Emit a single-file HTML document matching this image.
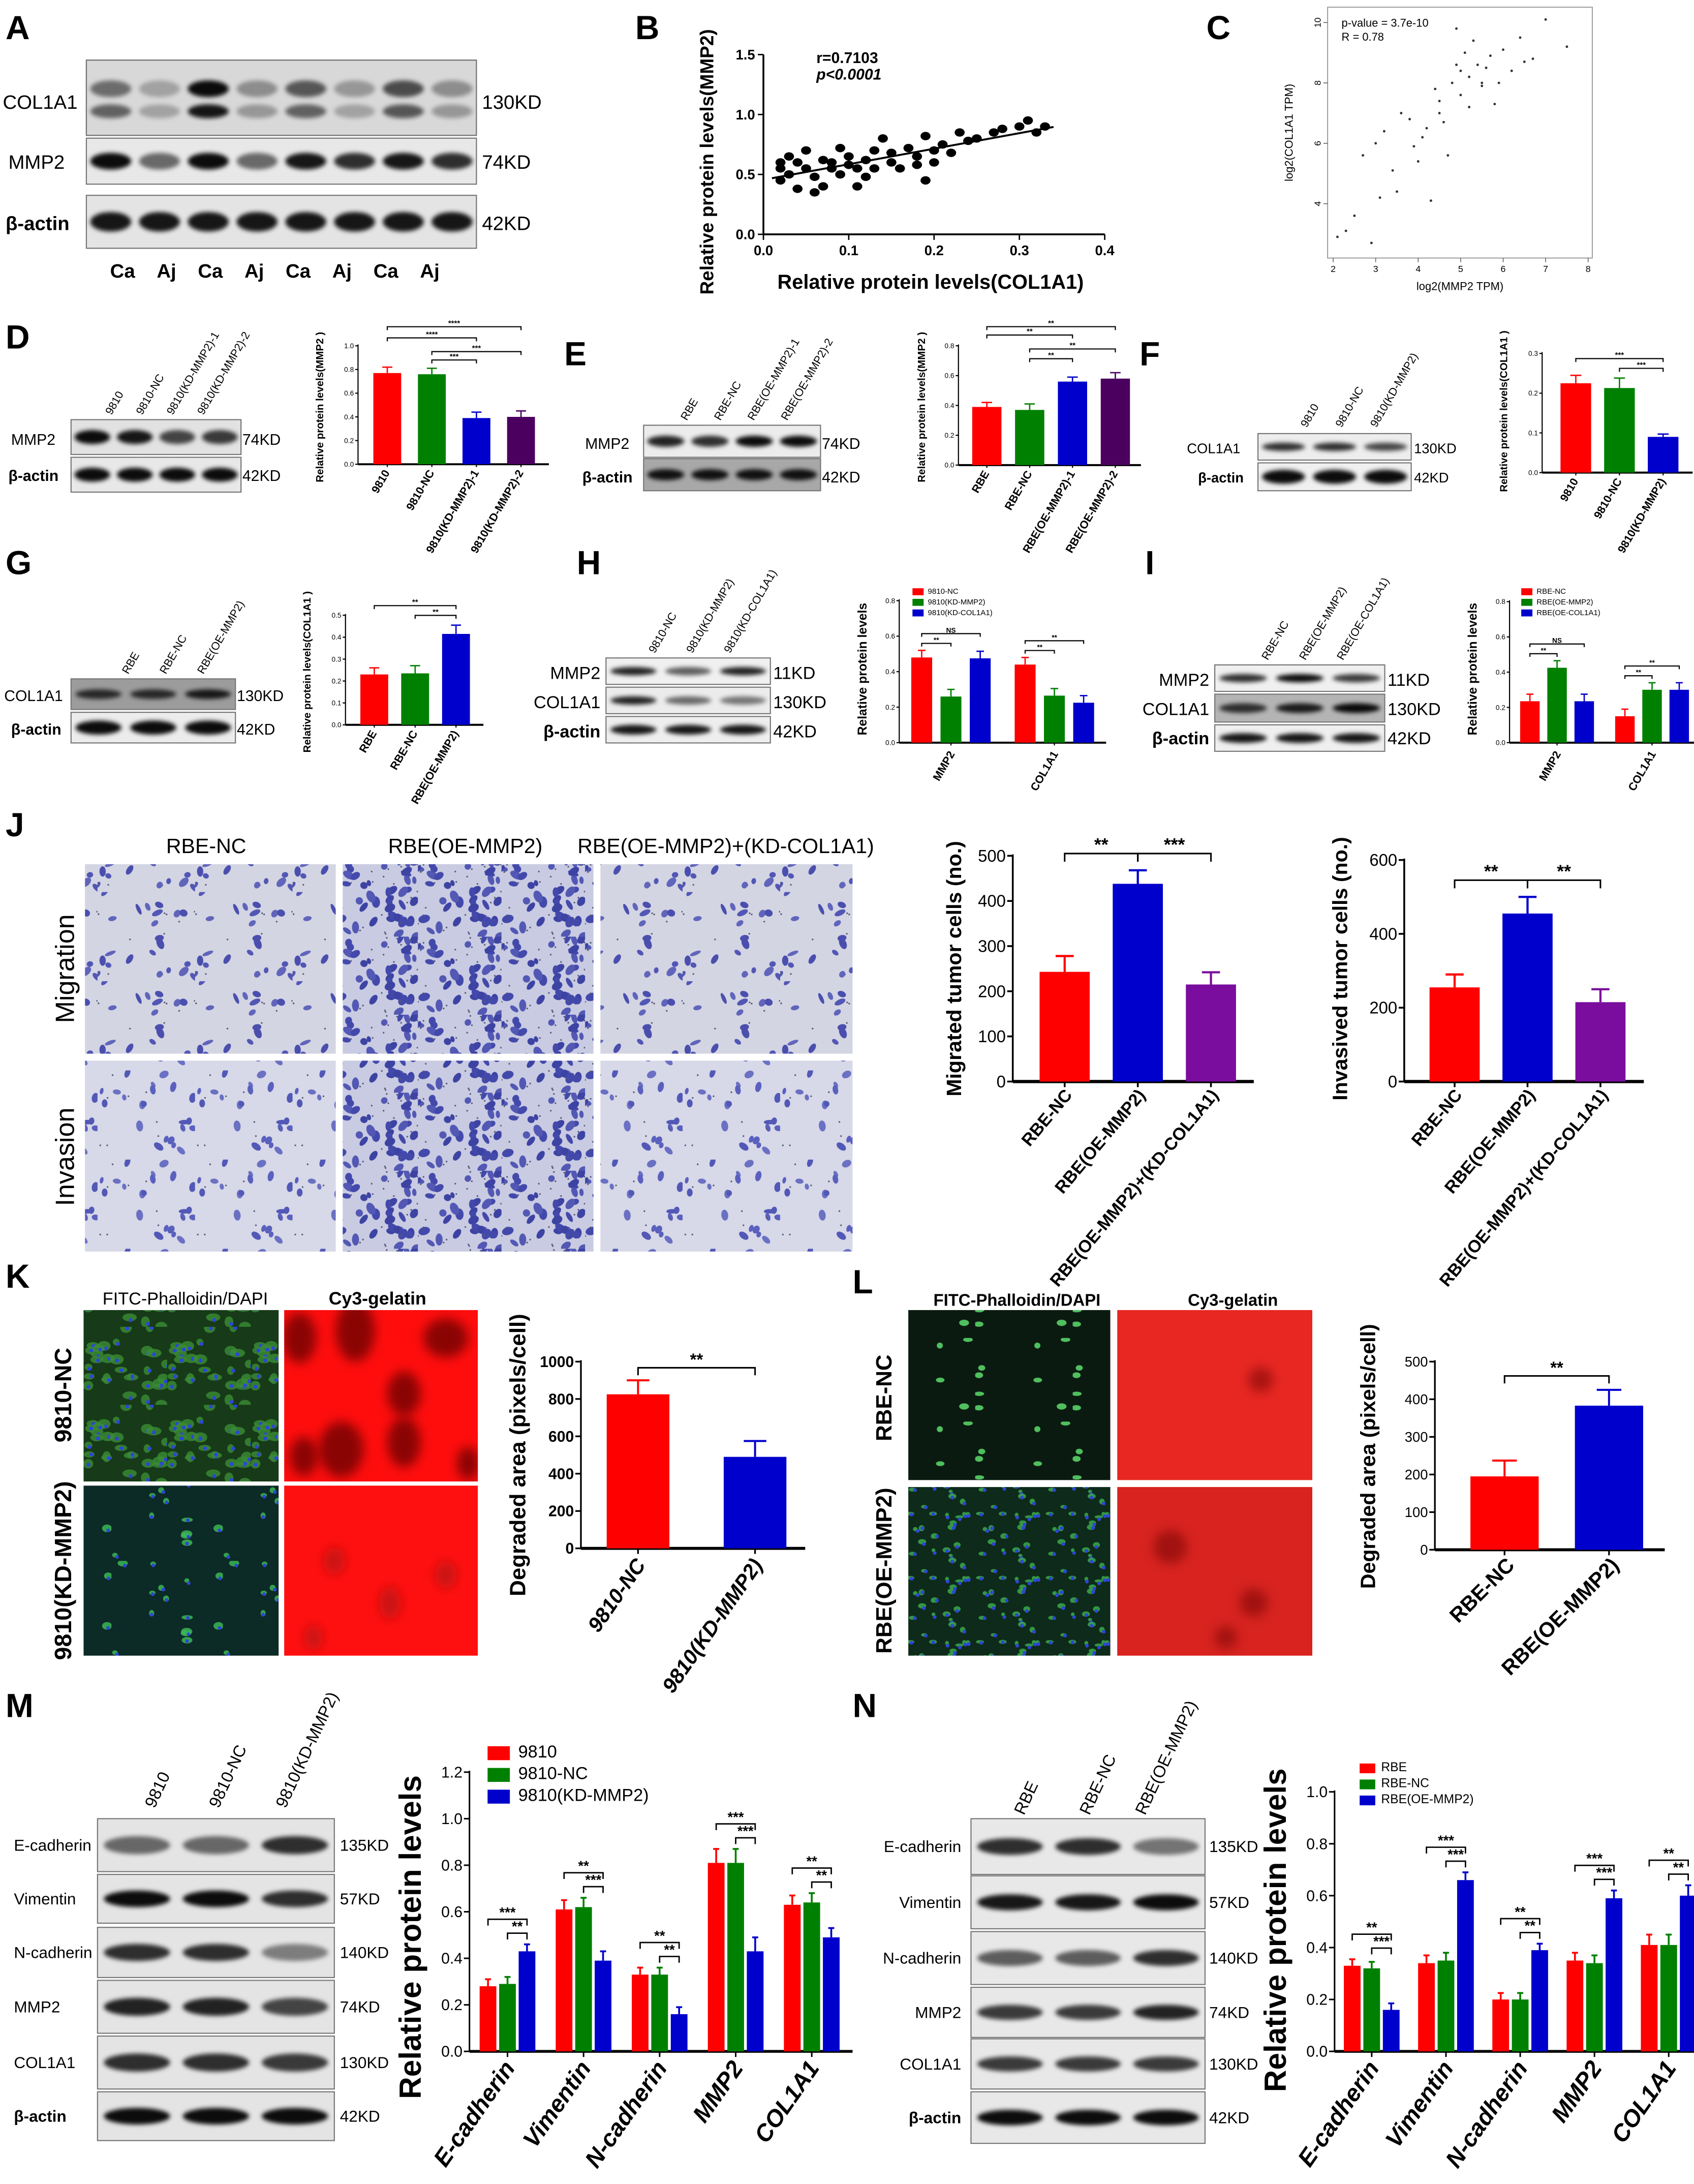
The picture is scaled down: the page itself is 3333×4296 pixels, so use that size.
<!DOCTYPE html>
<html><head><meta charset="utf-8"><style>
html,body{margin:0;padding:0;background:#fff}
svg{display:block;font-family:"Liberation Sans",Arial,sans-serif}
</style></head><body>
<svg id="fig" xmlns="http://www.w3.org/2000/svg" width="3333" height="4296" viewBox="0 0 1216 1567">
<defs id="defs">
<filter id="blur" x="-20%" y="-50%" width="140%" height="200%"><feGaussianBlur stdDeviation="1.6"/></filter>
<filter id="blur4" x="-50%" y="-50%" width="200%" height="200%"><feGaussianBlur stdDeviation="4"/></filter>
<clipPath id="clipK1"><rect x="204" y="940" width="139" height="123"/></clipPath>
<clipPath id="clipK2"><rect x="204" y="1066" width="139" height="122"/></clipPath>
<clipPath id="clipL1"><rect x="802" y="940" width="140" height="122"/></clipPath>
<clipPath id="clipL2"><rect x="802" y="1067" width="140" height="121"/></clipPath>
</defs>
</svg>
<script>
const NS='http://www.w3.org/2000/svg';
const svg=document.getElementById('fig');
const defs=document.getElementById('defs');
function mk(tag,attrs,parent){const e=document.createElementNS(NS,tag);for(const k in attrs)e.setAttribute(k,attrs[k]);(parent||svg).appendChild(e);return e;}
function txt(x,y,s,size,opts,name,parent){const t=mk('text',Object.assign({x:x,y:y,'font-size':size},opts||{}),parent);t.textContent=s;


return t;}

/* ---------------- DATA ---------------- */
const bX=[0.02,0.02,0.02,0.03,0.03,0.04,0.05,0.05,0.06,0.06,0.07,0.07,0.08,0.08,0.09,0.09,0.10,0.10,0.11,0.11,0.12,0.13,0.13,0.14,0.15,0.15,0.16,0.17,0.18,0.18,0.19,0.20,0.20,0.21,0.22,0.23,0.24,0.25,0.27,0.28,0.30,0.31,0.32,0.33,0.04,0.12,0.19];
const bY=[0.60,0.55,0.45,0.65,0.50,0.60,0.55,0.70,0.48,0.35,0.62,0.40,0.55,0.60,0.72,0.50,0.58,0.65,0.55,0.40,0.62,0.70,0.55,0.80,0.68,0.60,0.55,0.72,0.65,0.58,0.82,0.70,0.60,0.75,0.68,0.85,0.78,0.80,0.85,0.88,0.90,0.95,0.85,0.90,0.38,0.48,0.45];
const bXTicks=[0,0.1,0.2,0.3,0.4];const bXTickLabels=['0.0','0.1','0.2','0.3','0.4'];
const bYTicks=[0,0.5,1.0,1.5];const bYTickLabels=['0.0','0.5','1.0','1.5'];
const cX=[2.1,2.3,2.5,2.7,2.9,3.1,3.2,3.4,3.5,3.6,3.8,3.9,4.0,4.1,4.2,4.3,4.4,4.5,4.6,4.7,4.8,4.9,5.0,5.0,5.1,5.2,5.3,5.4,5.5,5.6,5.7,5.8,5.9,6.0,6.2,6.4,6.7,7.0,7.5,3.0,4.5,5.5,6.5,4.9,5.2];
const cY=[2.9,3.1,3.6,5.6,2.7,4.2,6.4,5.1,4.4,7.0,6.8,5.9,5.4,6.2,6.5,4.1,7.8,7.4,6.7,5.6,8.0,8.6,8.4,7.6,9.0,8.2,9.4,8.6,7.9,8.5,8.9,7.3,8.0,9.1,8.4,9.5,8.8,10.1,9.2,6.0,7.0,8.0,8.7,9.8,7.2];
const cXTicks=[2,3,4,5,6,7,8];const cYTicks=[4,6,8,10];

const dCats=['9810','9810-NC','9810(KD-MMP2)-1','9810(KD-MMP2)-2'];const dVals=[0.77,0.76,0.39,0.40];const dErr=[0.05,0.05,0.05,0.05];
const dTicks=[0,0.2,0.4,0.6,0.8,1.0];const dTickLabels=['0.0','0.2','0.4','0.6','0.8','1.0'];
const eCats=['RBE','RBE-NC','RBE(OE-MMP2)-1','RBE(OE-MMP2)-2'];const eVals=[0.39,0.37,0.56,0.58];const eErr=[0.03,0.04,0.03,0.04];
const eTicks=[0,0.2,0.4,0.6,0.8];const eTickLabels=['0.0','0.2','0.4','0.6','0.8'];
const fCats=['9810','9810-NC','9810(KD-MMP2)'];const fVals=[0.225,0.213,0.09];const fErr=[0.02,0.025,0.007];
const fTicks=[0,0.1,0.2,0.3];const fTickLabels=['0.0','0.1','0.2','0.3'];
const gCats=['RBE','RBE-NC','RBE(OE-MMP2)'];const gVals=[0.23,0.235,0.415];const gErr=[0.03,0.035,0.04];
const gTicks=[0,0.1,0.2,0.3,0.4,0.5];const gTickLabels=['0.0','0.1','0.2','0.3','0.4','0.5'];
const hCats=['MMP2','COL1A1'];const hSeries=['9810-NC','9810(KD-MMP2)','9810(KD-COL1A1)'];
const hNC=[0.48,0.44];const hKDM=[0.26,0.265];const hKDC=[0.475,0.225];const hErr=[0.04,0.04];
const hTicks=[0,0.2,0.4,0.6,0.8];const hTickLabels=['0.0','0.2','0.4','0.6','0.8'];
const iCats=['MMP2','COL1A1'];const iSeries=['RBE-NC','RBE(OE-MMP2)','RBE(OE-COL1A1)'];
const iNC=[0.235,0.15];const iOEM=[0.425,0.30];const iOEC=[0.235,0.30];const iErr=[0.04,0.04];
const jCats=['RBE-NC','RBE(OE-MMP2)','RBE(OE-MMP2)+(KD-COL1A1)'];
const jMig=[243,438,215];const jMigErr=[35,30,27];const jMigTicks=[0,100,200,300,400,500];
const jInv=[255,455,215];const jInvErr=[35,45,35];const jInvTicks=[0,200,400,600];
const kCats=['9810-NC','9810(KD-MMP2)'];const kVals=[825,490];const kErr=[75,85];const kTicks=[0,200,400,600,800,1000];
const lCats=['RBE-NC','RBE(OE-MMP2)'];const lVals=[195,383];const lErr=[42,42];const lTicks=[0,100,200,300,400,500];
const mCats=['E-cadherin','Vimentin','N-cadherin','MMP2','COL1A1'];const mSeries=['9810','9810-NC','9810(KD-MMP2)'];
const m9810=[0.28,0.61,0.33,0.81,0.63];const mNC=[0.29,0.62,0.33,0.81,0.64];const mKD=[0.43,0.39,0.16,0.43,0.49];const mErr=[0.03,0.04,0.03,0.06,0.04];
const mTicks=[0,0.2,0.4,0.6,0.8,1.0,1.2];const mTickLabels=['0.0','0.2','0.4','0.6','0.8','1.0','1.2'];
const nCats=['E-cadherin','Vimentin','N-cadherin','MMP2','COL1A1'];const nSeries=['RBE','RBE-NC','RBE(OE-MMP2)'];
const nRBE=[0.33,0.34,0.20,0.35,0.41];const nNC=[0.32,0.35,0.20,0.34,0.41];const nOE=[0.16,0.66,0.39,0.59,0.60];const nErr=[0.025,0.03,0.025,0.03,0.04];
const nTicks=[0,0.2,0.4,0.6,0.8,1.0];const nTickLabels=['0.0','0.2','0.4','0.6','0.8','1.0'];

const RED='#ff0000',GRN='#008000',BLU='#0000cc',PUR='#4b0060',VIO='#7a0d9e';

/* ---------------- texture patterns (decorative, not data) ---------------- */
let seed=7;function rnd(){seed=(seed*16807)%2147483647;return seed/2147483647;}
function cellPattern(id,w,h,bg,n,cols,rx,ry){
 const p=mk('pattern',{id:id,width:w,height:h,patternUnits:'userSpaceOnUse'},defs);
 mk('rect',{width:w,height:h,fill:bg},p);
 for(let i=0;i<n;i++){const x=rnd()*w,y=rnd()*h;
  mk('ellipse',{cx:x,cy:y,rx:rx*(0.6+rnd()*0.7),ry:ry*(0.6+rnd()*0.6),fill:cols[i%cols.length],transform:'rotate('+Math.floor(rnd()*180)+' '+x+' '+y+')'},p);
  if(rnd()<0.5)mk('circle',{cx:rnd()*w,cy:rnd()*h,r:0.6,fill:'#555a70'},p);}
}
cellPattern('mig',70,64,'#d4d5e3',22,['#5257b5','#4a4fae','#6065bb'],3.4,2.2);
cellPattern('migD',60,56,'#c9cbe2',44,['#4349ab','#3d43a3','#5258b3'],3.6,2.5);
cellPattern('inv',70,64,'#d7d8e8',22,['#5a60bd','#5258b6','#6a70c2'],3.2,2.1);
function fluoPattern(id,w,h,bg,n,gcol,gr,nuc){
 const p=mk('pattern',{id:id,width:w,height:h,patternUnits:'userSpaceOnUse'},defs);
 mk('rect',{width:w,height:h,fill:bg},p);
 for(let i=0;i<n;i++){const x=rnd()*w,y=rnd()*h;
  if(gr>0)mk('ellipse',{cx:x,cy:y,rx:gr*(0.6+rnd()*0.8),ry:gr*(0.5+rnd()*0.5),fill:gcol,'fill-opacity':0.8},p);
  mk('circle',{cx:x+rnd()*2,cy:y+rnd()*2,r:nuc,fill:'#2d45d8'},p);}
}
fluoPattern('grn',60,56,'#173a18',30,'#3a8c35',4,1.4);
fluoPattern('grnK2',80,70,'#0c2a26',14,'#3fbf55',3,1.3);
fluoPattern('grn2',70,60,'#0a1a10',8,'#62e872',2.6,0.1);
fluoPattern('grn3',50,46,'#0e2a1a',20,'#3cb14e',2.2,1.3);

/* ---------------- helpers ---------------- */
function barChart(c){
 const g=mk('g',{});
 
 
 const ys=v=>c.y0-(v/c.max)*(c.y0-c.yTop);
 const n=c.cats.length,m=c.series.length;
 const band=(c.b[1]-c.b[0])/n;
 const gc=i=>c.b[0]+band*(i+0.5);
 const bx=(i,j)=>gc(i)+(j-(m-1)/2)*c.step;
 const aw=c.aw||0.8;
 mk('line',{x1:c.x0,y1:ys(c.ticks[c.ticks.length-1])-1,x2:c.x0,y2:c.y0,stroke:'#000','stroke-width':aw},g);
 mk('line',{x1:c.x0,y1:c.y0,x2:c.x1,y2:c.y0,stroke:'#000','stroke-width':aw*1.8},g);
 c.ticks.forEach((t,k)=>{const y=ys(t);mk('line',{x1:c.x0-c.tl,y1:y,x2:c.x0,y2:y,stroke:'#000','stroke-width':aw},g);
  txt(c.x0-c.tl-1,y+c.ts*0.35,c.tickLabels[k],c.ts,{'text-anchor':'end','font-weight':c.tw||'normal'},'y-tick-label',g);});
 c.series.forEach((arr,j)=>{arr.forEach((v,i)=>{
  const col=m===1?c.colors[i]:c.colors[j];const x=bx(i,j);const e=c.errs[i];
  const r=mk('rect',{x:x-c.bw/2,y:ys(v),width:c.bw,height:c.y0-ys(v),fill:col},g);
  
  
  mk('line',{x1:x,y1:ys(v),x2:x,y2:ys(v+e),stroke:col,'stroke-width':aw*1.2},g);
  mk('line',{x1:x-c.bw*0.18,y1:ys(v+e),x2:x+c.bw*0.18,y2:ys(v+e),stroke:col,'stroke-width':aw*1.2},g);
 });});
 c.cats.forEach((s,i)=>{const x=gc(i);mk('line',{x1:x,y1:c.y0,x2:x,y2:c.y0+c.tl,stroke:'#000','stroke-width':aw},g);
  const lx=x+(c.clDx||0),ly=c.y0+c.clDy;
  txt(lx,ly,s,c.cs,{'text-anchor':'end','font-weight':'bold','font-style':c.ci?'italic':'normal',transform:'rotate('+c.rot+' '+lx+' '+ly+')'},'x-category-label',g);});
 txt(c.titleX,c.titleY,c.title,c.titleS,{'text-anchor':'middle','font-weight':'bold',transform:'rotate(-90 '+c.titleX+' '+c.titleY+')'},'y-axis-title',g);
 return {ys:ys,bx:bx,g:g};
}
function bracket(x1,x2,y,label,size,lw,parent){
 const g=mk('g',{},parent);
 
 
 mk('path',{d:'M'+x1+' '+(y+size*0.45)+'V'+y+'H'+x2+'V'+(y+size*0.45),fill:'none',stroke:'#000','stroke-width':lw},g);
 txt((x1+x2)/2,y-size*0.15,label,size,{'text-anchor':'middle','font-weight':'bold'},'significance-label',g);
}
function legend(x,y,dy,sz,fs,names,cols){
 const g=mk('g',{});
 
 
 names.forEach((s,k)=>{mk('rect',{x:x,y:y+k*dy-sz*0.8,width:sz*1.6,height:sz,fill:cols[k]},g);
  txt(x+sz*2.2,y+k*dy,s,fs,{},'legend-entry',g);});
}
function blot(name,x,y,w,h,ints,bg,bandH,yoff,widthF){
 const g=mk('g',{});
 
 
 mk('rect',{x:x,y:y,width:w,height:h,fill:bg||'#e6e6e6',stroke:'#777','stroke-width':0.8},g);
 const n=ints.length,lw=w/n;
 ints.forEach((v,i)=>{mk('ellipse',{cx:x+lw*(i+0.5),cy:y+h*(yoff||0.5),rx:lw*(widthF||0.42),ry:bandH,fill:'#000','fill-opacity':v,filter:'url(#blur)'},g);});
 return g;
}
function panel(x,y,s){txt(x,y,s,24,{'font-weight':'bold'},'panel-label-'+s);}
function img(name,x,y,w,h,fill){const r=mk('rect',{x:x,y:y,width:w,height:h,fill:fill});
 
 return r;}
function blotch(list,col,op,clip){const g=mk('g',{'clip-path':'url(#'+clip+')'});
 
 
 list.forEach(s=>mk('ellipse',{cx:s[0],cy:s[1],rx:s[2],ry:s[3]||s[2],fill:col,'fill-opacity':op,filter:'url(#blur4)'},g));}

/* ---------------- A ---------------- */
panel(4,28,'A');
blot('blot-a-col1a1',62,43,280,54,[0.5,0.25,0.95,0.35,0.6,0.3,0.65,0.35],'#d8d8d8',6,0.38);
blot('blot-a-col1a1-lower',62,43,280,54,[0.55,0.25,0.9,0.3,0.55,0.25,0.6,0.3],'none',5,0.68);
blot('blot-a-mmp2',62,99,280,33,[0.95,0.55,0.95,0.55,0.9,0.8,0.9,0.8],'#e8e8e8',6);
blot('blot-a-actin',62,140,280,38,[0.9,0.9,0.9,0.9,0.9,0.9,0.9,0.9],'#e4e4e4',7);
txt(2,78,'COL1A1',14,{},'row-label');txt(6,121,'MMP2',14,{},'row-label');txt(4,165,'β-actin',14,{'font-weight':'bold'},'row-label');
txt(346,78,'130KD',14,{},'kd-label');txt(346,121,'74KD',14,{},'kd-label');txt(346,165,'42KD',14,{},'kd-label');
['Ca','Aj','Ca','Aj','Ca','Aj','Ca','Aj'].forEach((s,i)=>txt(88+i*31.5,199,s,14,{'font-weight':'bold','text-anchor':'middle'},'lane-label'));

/* ---------------- B ---------------- */
panel(456,28,'B');
(function(){
 const x0=548,x1=793,y0=168,yT=39;
 const sx=v=>x0+v/0.4*(x1-x0),sy=v=>y0-v/1.5*(y0-yT);
 const g=mk('g',{});
 
 
 mk('line',{x1:x0,y1:yT,x2:x0,y2:y0,stroke:'#000','stroke-width':1.3},g);
 mk('line',{x1:x0,y1:y0,x2:x1,y2:y0,stroke:'#000','stroke-width':1.3},g);
 bXTicks.forEach((t,k)=>{mk('line',{x1:sx(t),y1:y0,x2:sx(t),y2:y0+4,stroke:'#000'},g);txt(sx(t),y0+15,bXTickLabels[k],10,{'text-anchor':'middle','font-weight':'bold'},'x-tick-label',g);});
 bYTicks.forEach((t,k)=>{mk('line',{x1:x0-4,y1:sy(t),x2:x0,y2:sy(t),stroke:'#000'},g);txt(x0-6,sy(t)+3.5,bYTickLabels[k],10,{'text-anchor':'end','font-weight':'bold'},'y-tick-label',g);});
 bX.forEach((v,i)=>{const p=mk('ellipse',{cx:sx(v),cy:sy(bY[i]),rx:3.6,ry:3,fill:'#000'},g);
  
  });
 const n=bX.length,mx=bX.reduce((a,b)=>a+b)/n,my=bY.reduce((a,b)=>a+b)/n;
 let sxy=0,sxx=0;bX.forEach((v,i)=>{sxy+=(v-mx)*(bY[i]-my);sxx+=(v-mx)*(v-mx);});
 const sl=sxy/sxx,ic=my-sl*mx,xa=Math.min(...bX)-0.01,xb=Math.max(...bX)+0.01;
 const ln=mk('line',{x1:sx(xa),y1:sy(ic+sl*xa),x2:sx(xb),y2:sy(ic+sl*xb),stroke:'#000','stroke-width':1.4},g);
 
 
 txt(586,45,'r=0.7103',11,{'font-weight':'bold'},'r-value',g);
 txt(586,57,'p<0.0001',11,{'font-weight':'bold','font-style':'italic'},'p-value',g);
 txt(668,207,'Relative protein levels(COL1A1)',14.5,{'text-anchor':'middle','font-weight':'bold'},'x-axis-title',g);
 txt(512,116,'Relative protein levels(MMP2)',13.5,{'text-anchor':'middle','font-weight':'bold',transform:'rotate(-90 512 116)'},'y-axis-title',g);
})();

/* ---------------- C ---------------- */
panel(866,28,'C');
(function(){
 const x0=953,x1=1143,y0=185,yT=5;
 const sx=v=>957+(v-2)*(1140-957)/6,sy=v=>146-(v-4)*(146-16)/6;
 const g=mk('g',{});
 
 
 mk('rect',{x:x0,y:yT,width:x1-x0,height:y0-yT,fill:'none',stroke:'#999','stroke-width':0.7},g);
 cXTicks.forEach(t=>{mk('line',{x1:sx(t),y1:y0,x2:sx(t),y2:y0+3,stroke:'#666','stroke-width':0.6},g);txt(sx(t),y0+10,String(t),6.5,{'text-anchor':'middle'},'x-tick-label',g);});
 cYTicks.forEach(t=>{mk('line',{x1:x0-3,y1:sy(t),x2:x0,y2:sy(t),stroke:'#666','stroke-width':0.6},g);txt(x0-5,sy(t),String(t),6.5,{'text-anchor':'middle',transform:'rotate(-90 '+(x0-5)+' '+sy(t)+')'},'y-tick-label',g);});
 cX.forEach((v,i)=>{const p=mk('circle',{cx:sx(v),cy:sy(cY[i]),r:0.9,fill:'#333'},g);
  
  });
 txt(963,19,'p-value = 3.7e-10',8,{},'p-value',g);txt(963,29,'R = 0.78',8,{},'r-value',g);
 txt(1048,208,'log2(MMP2 TPM)',8,{'text-anchor':'middle'},'x-axis-title',g);
 txt(928,95,'log2(COL1A1 TPM)',8,{'text-anchor':'middle',transform:'rotate(-90 928 95)'},'y-axis-title',g);
})();

/* ---------------- D ---------------- */
panel(4,250,'D');
blot('blot-d-mmp2',51,301,122,25,[0.95,0.9,0.7,0.75],'#e2e2e2',5);
blot('blot-d-actin',51,328,122,25,[0.95,0.95,0.95,0.95],'#e8e8e8',5);
txt(8,319,'MMP2',11,{},'row-label');txt(6,345,'β-actin',11,{'font-weight':'bold'},'row-label');
txt(174,319,'74KD',11,{},'kd-label');txt(174,345,'42KD',11,{},'kd-label');
dCats.forEach((s,i)=>{const x=80+i*22,y=298;txt(x,y,s,8,{transform:'rotate(-60 '+x+' '+y+')'},'lane-label');});
(function(){
 const r=barChart({name:'chart-d',cats:dCats,series:[dVals],errs:dErr,colors:[RED,GRN,BLU,PUR],x0:257,x1:394,y0:333,yTop:248,max:1.0,b:[262,390],bw:20,step:0,
  ticks:dTicks,tickLabels:dTickLabels,tl:2,ts:5,rot:-60,cs:8,clDy:6,clDx:2,title:'Relative protein levels(MMP2 )',titleX:232,titleY:292,titleS:7.5});
 bracket(r.bx(0,0),r.bx(3,0),r.ys(dVals[0]+dErr[0])-29,'****',5.5,0.8);
 bracket(r.bx(0,0),r.bx(2,0),r.ys(dVals[0]+dErr[0])-21,'****',5.5,0.8);
 bracket(r.bx(1,0),r.bx(3,0),r.ys(dVals[1]+dErr[1])-12,'***',5.5,0.8);
 bracket(r.bx(1,0),r.bx(2,0),r.ys(dVals[1]+dErr[1])-6,'***',5.5,0.8);
})();

/* ---------------- E ---------------- */
panel(405,262,'E');
blot('blot-e-mmp2',462,305,127,23,[0.85,0.8,0.95,0.95],'#ececec',4);
blot('blot-e-actin',462,329,127,23,[0.9,0.9,0.9,0.9],'#a8a8a8',4);
txt(420,322,'MMP2',11,{},'row-label');txt(418,346,'β-actin',11,{'font-weight':'bold'},'row-label');
txt(590,322,'74KD',11,{},'kd-label');txt(590,346,'42KD',11,{},'kd-label');
eCats.forEach((s,i)=>{const x=493+i*24,y=302;txt(x,y,s,8,{transform:'rotate(-60 '+x+' '+y+')'},'lane-label');});
(function(){
 const r=barChart({name:'chart-e',cats:eCats,series:[eVals],errs:eErr,colors:[RED,GRN,BLU,PUR],x0:688,x1:819,y0:333.6,yTop:248,max:0.8,b:[693,816],bw:21,step:0,
  ticks:eTicks,tickLabels:eTickLabels,tl:2,ts:5,rot:-60,cs:8,clDy:6,clDx:2,title:'Relative protein levels(MMP2 )',titleX:664,titleY:292,titleS:7.5});
 bracket(r.bx(0,0),r.bx(3,0),r.ys(eVals[3]+eErr[3])-33,'**',5.5,0.8);
 bracket(r.bx(0,0),r.bx(2,0),r.ys(eVals[3]+eErr[3])-27,'**',5.5,0.8);
 bracket(r.bx(1,0),r.bx(3,0),r.ys(eVals[3]+eErr[3])-17,'**',5.5,0.8);
 bracket(r.bx(1,0),r.bx(2,0),r.ys(eVals[3]+eErr[3])-10,'**',5.5,0.8);
})();

/* ---------------- F ---------------- */
panel(818,262,'F');
blot('blot-f-col1a1',903,311,110,19,[0.8,0.8,0.7],'#ededed',3);
blot('blot-f-actin',903,332,110,20,[0.95,0.95,0.95],'#f0f0f0',5);
txt(852,325,'COL1A1',10,{},'row-label');txt(860,346,'β-actin',10,{'font-weight':'bold'},'row-label');
txt(1015,325,'130KD',10,{},'kd-label');txt(1015,346,'42KD',10,{},'kd-label');
fCats.forEach((s,i)=>{const x=938+i*25,y=307;txt(x,y,s,8,{transform:'rotate(-60 '+x+' '+y+')'},'lane-label');});
(function(){
 const r=barChart({name:'chart-f',cats:fCats,series:[fVals],errs:fErr,colors:[RED,GRN,BLU],x0:1107,x1:1215,y0:339,yTop:253.5,max:0.3,b:[1115.5,1209.5],bw:22,step:0,
  ticks:fTicks,tickLabels:fTickLabels,tl:2,ts:5,rot:-60,cs:8,clDy:6,clDx:2,title:'Relative protein levels(COL1A1 )',titleX:1082,titleY:295,titleS:7.5});
 bracket(r.bx(0,0),r.bx(2,0),r.ys(fVals[0]+fErr[0])-12,'***',5.5,0.8);
 bracket(r.bx(1,0),r.bx(2,0),r.ys(fVals[0]+fErr[0])-5,'***',5.5,0.8);
})();

/* ---------------- G ---------------- */
panel(4,412,'G');
blot('blot-g-col1a1',51,487,118,22,[0.75,0.75,0.85],'#9c9c9c',3.5);
blot('blot-g-actin',51,511,118,22,[0.95,0.95,0.95],'#ececec',5);
txt(3,503,'COL1A1',11,{},'row-label');txt(8,527,'β-actin',11,{'font-weight':'bold'},'row-label');
txt(170,503,'130KD',11,{},'kd-label');txt(170,527,'42KD',11,{},'kd-label');
gCats.forEach((s,i)=>{const x=92+i*27,y=484;txt(x,y,s,8,{transform:'rotate(-60 '+x+' '+y+')'},'lane-label');});
(function(){
 const r=barChart({name:'chart-g',cats:gCats,series:[gVals],errs:gErr,colors:[RED,GRN,BLU],x0:248,x1:347,y0:520,yTop:441.4,max:0.5,b:[254,342],bw:20,step:0,
  ticks:gTicks,tickLabels:gTickLabels,tl:2,ts:5,rot:-60,cs:8,clDy:6,clDx:2,title:'Relative protein levels(COL1A1 )',titleX:223,titleY:482,titleS:7.5});
 bracket(r.bx(0,0),r.bx(2,0),r.ys(gVals[2]+gErr[2])-14,'**',5.5,0.8);
 bracket(r.bx(1,0),r.bx(2,0),r.ys(gVals[2]+gErr[2])-7,'**',5.5,0.8);
})();

/* ---------------- H ---------------- */
panel(414,412,'H');
blot('blot-h-mmp2',435,472,118,19,[0.85,0.6,0.85],'#f0f0f0',3);
blot('blot-h-col1a1',435,493,118,19,[0.85,0.55,0.5],'#ececec',3);
blot('blot-h-actin',435,514,118,19,[0.9,0.9,0.9],'#eeeeee',3.5);
txt(431,487,'MMP2',12.5,{'text-anchor':'end'},'row-label');txt(431,508,'COL1A1',12.5,{'text-anchor':'end'},'row-label');txt(431,529,'β-actin',12.5,{'text-anchor':'end','font-weight':'bold'},'row-label');
txt(555,487,'11KD',12.5,{},'kd-label');txt(555,508,'130KD',12.5,{},'kd-label');txt(555,529,'42KD',12.5,{},'kd-label');
['9810-NC','9810(KD-MMP2)','9810(KD-COL1A1)'].forEach((s,i)=>{const x=470+i*27,y=469;txt(x,y,s,8,{transform:'rotate(-60 '+x+' '+y+')'},'lane-label');});
(function(){
 const r=barChart({name:'chart-h',cats:hCats,series:[hNC,hKDM,hKDC],errs:hErr,colors:[RED,GRN,BLU],x0:645.5,x1:794,y0:532.8,yTop:430.9,max:0.8,b:[645.5,794],bw:15,step:21,
  ticks:hTicks,tickLabels:hTickLabels,tl:2,ts:5,rot:-60,cs:8,clDy:8,clDx:3,title:'Relative protein levels',titleX:622,titleY:480,titleS:9});
 [0,1].forEach(i=>{const top=r.ys(Math.max(hNC[i],hKDM[i],hKDC[i])+hErr[i]);
  bracket(r.bx(i,0),r.bx(i,2),top-12,i===0?'NS':'**',5,0.8);
  bracket(r.bx(i,0),r.bx(i,1),top-5,'**',5,0.8);});
 legend(655,426,7.6,5,5.5,hSeries,[RED,GRN,BLU]);
})();

/* ---------------- I ---------------- */
panel(822,412,'I');
blot('blot-i-mmp2',872,477,122,19,[0.8,0.95,0.75],'#f0f0f0',3);
blot('blot-i-col1a1',872,498,122,20,[0.75,0.85,0.95],'#b4b4b4',3.5);
blot('blot-i-actin',872,520,122,19,[0.9,0.9,0.9],'#efefef',3.5);
txt(868,492,'MMP2',12.5,{'text-anchor':'end'},'row-label');txt(868,513,'COL1A1',12.5,{'text-anchor':'end'},'row-label');txt(868,534,'β-actin',12.5,{'text-anchor':'end','font-weight':'bold'},'row-label');
txt(996,492,'11KD',12.5,{},'kd-label');txt(996,513,'130KD',12.5,{},'kd-label');txt(996,534,'42KD',12.5,{},'kd-label');
['RBE-NC','RBE(OE-MMP2)','RBE(OE-COL1A1)'].forEach((s,i)=>{const x=910+i*27,y=474;txt(x,y,s,8,{transform:'rotate(-60 '+x+' '+y+')'},'lane-label');});
(function(){
 const r=barChart({name:'chart-i',cats:iCats,series:[iNC,iOEM,iOEC],errs:iErr,colors:[RED,GRN,BLU],x0:1083.6,x1:1220,y0:532.8,yTop:431.6,max:0.8,b:[1083.6,1220],bw:14,step:19.5,
  ticks:hTicks,tickLabels:hTickLabels,tl:2,ts:5,rot:-60,cs:8,clDy:8,clDx:3,title:'Relative protein levels',titleX:1060,titleY:480,titleS:9});
 [0,1].forEach(i=>{const top=r.ys(Math.max(iNC[i],iOEM[i],iOEC[i])+iErr[i]);
  bracket(r.bx(i,0),r.bx(i,2),top-12,i===0?'NS':'**',5,0.8);
  bracket(r.bx(i,0),r.bx(i,1),top-5,'**',5,0.8);});
 legend(1092,426,7.6,5,5.5,iSeries,[RED,GRN,BLU]);
})();

/* ---------------- J ---------------- */
panel(4,600,'J');
img('micrograph-migration-rbe-nc',61,620,180,136,'url(#mig)');
img('micrograph-migration-oe-mmp2',246,620,180,136,'url(#migD)');
img('micrograph-migration-oe-kd',431,620,181,136,'url(#mig)');
img('micrograph-invasion-rbe-nc',61,761,180,137,'url(#inv)');
img('micrograph-invasion-oe-mmp2',246,761,180,137,'url(#migD)');
img('micrograph-invasion-oe-kd',431,761,181,137,'url(#inv)');
txt(148,612,'RBE-NC',15,{'text-anchor':'middle'},'column-header');
txt(334,612,'RBE(OE-MMP2)',15,{'text-anchor':'middle'},'column-header');
txt(521,612,'RBE(OE-MMP2)+(KD-COL1A1)',15,{'text-anchor':'middle'},'column-header');
txt(53,695,'Migration',19,{'text-anchor':'middle',transform:'rotate(-90 53 695)'},'row-label-migration');
txt(53,830,'Invasion',19,{'text-anchor':'middle',transform:'rotate(-90 53 830)'},'row-label-invasion');
(function(){
 const r=barChart({name:'chart-j-migration',cats:jCats,series:[jMig],errs:jMigErr,colors:[RED,BLU,VIO],x0:727,x1:900,y0:776,yTop:614,max:500,b:[738,895.5],bw:36,step:0,aw:1.3,
  ticks:jMigTicks,tickLabels:jMigTicks.map(String),tl:4,ts:12,rot:-50,cs:12.5,clDy:10,clDx:6,title:'Migrated tumor cells (no.)',titleX:690,titleY:695,titleS:15});
 const y=r.ys(Math.max(...jMig.map((v,i)=>v+jMigErr[i])))-12;
 bracket(r.bx(0,0),r.bx(1,0),y,'**',13,1.1);bracket(r.bx(1,0),r.bx(2,0),y,'***',13,1.1);
 const r2=barChart({name:'chart-j-invasion',cats:jCats,series:[jInv],errs:jInvErr,colors:[RED,BLU,VIO],x0:1008,x1:1180,y0:776,yTop:617,max:600,b:[1018,1175],bw:36,step:0,aw:1.3,
  ticks:jInvTicks,tickLabels:jInvTicks.map(String),tl:4,ts:12,rot:-50,cs:12.5,clDy:10,clDx:6,title:'Invasived tumor cells (no.)',titleX:967,titleY:695,titleS:15});
 const y2=r2.ys(Math.max(...jInv.map((v,i)=>v+jInvErr[i])))-12;
 bracket(r2.bx(0,0),r2.bx(1,0),y2,'**',13,1.1);bracket(r2.bx(1,0),r2.bx(2,0),y2,'**',13,1.1);
})();

/* ---------------- K ---------------- */
panel(4,924,'K');
txt(133,936,'FITC-Phalloidin/DAPI',12.5,{'text-anchor':'middle'},'column-header');
txt(271,936,'Cy3-gelatin',13,{'text-anchor':'middle','font-weight':'bold'},'column-header');
img('fluorescence-9810-nc-green',60,940,140,123,'url(#grn)');
img('fluorescence-9810-kd-green',60,1066,140,122,'url(#grnK2)');
img('gelatin-9810-nc-red',204,940,139,123,'#ff0d0d');
img('gelatin-9810-kd-red',204,1066,139,122,'#ff1010');
blotch([[215,960,12,18],[255,955,14,22],[320,960,16,14],[290,1000,12,16],[218,1045,10,14],[245,1040,16,20],[290,1035,12,18],[336,1050,8,12]],'#5a0808',0.7,'clipK1');
blotch([[240,1120,8,10],[280,1150,8,12],[225,1175,7,9],[320,1130,8,10]],'#8a1010',0.45,'clipK2');
txt(51,1001,'9810-NC',17,{'text-anchor':'middle','font-weight':'bold',transform:'rotate(-90 51 1001)'},'row-label');
txt(51,1127,'9810(KD-MMP2)',17,{'text-anchor':'middle','font-weight':'bold',transform:'rotate(-90 51 1127)'},'row-label');
(function(){
 const r=barChart({name:'chart-k',cats:kCats,series:[kVals],errs:kErr,colors:[RED,BLU],x0:417,x1:578,y0:1111,yTop:977,max:1000,b:[416,584],bw:45,step:0,aw:1.2,
  ticks:kTicks,tickLabels:kTicks.map(String),tl:4,ts:11,tw:'bold',rot:-55,cs:15,clDy:12,clDx:6,ci:true,title:'Degraded area (pixels/cell)',titleX:377,titleY:1044,titleS:16});
 bracket(r.bx(0,0),r.bx(1,0),r.ys(kVals[0]+kErr[0])-9,'**',12,1.1);
})();

/* ---------------- L ---------------- */
panel(612,928,'L');
txt(730,937,'FITC-Phalloidin/DAPI',12,{'text-anchor':'middle','font-weight':'bold'},'column-header');
txt(885,937,'Cy3-gelatin',12,{'text-anchor':'middle','font-weight':'bold'},'column-header');
img('fluorescence-rbe-nc-green',652,940,145,122,'url(#grn2)');
img('fluorescence-rbe-oe-green',652,1067,145,121,'url(#grn3)');
img('gelatin-rbe-nc-red',802,940,140,122,'#e82722');
img('gelatin-rbe-oe-red',802,1067,140,121,'#d8231f');
blotch([[905,990,9]],'#6a0c0c',0.5,'clipL1');
blotch([[840,1110,12],[900,1150,10],[880,1175,8]],'#6a0c0c',0.5,'clipL2');
txt(640,1003,'RBE-NC',16,{'text-anchor':'middle','font-weight':'bold',transform:'rotate(-90 640 1003)'},'row-label');
txt(640,1127,'RBE(OE-MMP2)',16,{'text-anchor':'middle','font-weight':'bold',transform:'rotate(-90 640 1127)'},'row-label');
(function(){
 const r=barChart({name:'chart-l',cats:lCats,series:[lVals],errs:lErr,colors:[RED,BLU],x0:1030,x1:1195,y0:1112,yTop:977,max:500,b:[1042.5,1192.5],bw:49,step:0,aw:1.2,
  ticks:lTicks,tickLabels:lTicks.map(String),tl:4,ts:10,rot:-45,cs:15,clDy:12,clDx:8,title:'Degraded area (pixels/cell)',titleX:987,titleY:1045,titleS:15});
 bracket(r.bx(0,0),r.bx(1,0),r.ys(lVals[1]+lErr[1])-10,'**',12,1.1);
})();

/* ---------------- M ---------------- */
panel(4,1232,'M');
(function(){
 const rows=[['E-cadherin','135KD',1305,38,[0.55,0.55,0.8]],['Vimentin','57KD',1345,35,[0.95,0.95,0.8]],['N-cadherin','140KD',1383,36,[0.8,0.8,0.45]],['MMP2','74KD',1421,38,[0.85,0.85,0.7]],['COL1A1','130KD',1461,38,[0.8,0.8,0.75]],['β-actin','42KD',1501,35,[0.95,0.95,0.95]]];
 rows.forEach(r=>{blot('blot-m-'+r[0],70,r[2],170,r[3],r[4],'#e4e4e4',r[3]*0.17);
  txt(10,r[2]+r[3]/2+4,r[0],11.5,{'font-weight':r[0]==='β-actin'?'bold':'normal'},'row-label');
  txt(244,r[2]+r[3]/2+4,r[1],11.5,{},'kd-label');});
 ['9810','9810-NC','9810(KD-MMP2)'].forEach((s,i)=>{const x=[111,157,205][i],y=1298;txt(x,y,s,12,{transform:'rotate(-65 '+x+' '+y+')'},'lane-label');});
 const r=barChart({name:'chart-m',cats:mCats,series:[m9810,mNC,mKD],errs:mErr,colors:[RED,GRN,BLU],x0:337,x1:612,y0:1472,yTop:1305,max:1.0,b:[337,610],bw:12,step:14,aw:1.1,
  ticks:mTicks,tickLabels:mTickLabels,tl:4,ts:11,rot:-55,cs:17,clDy:12,clDx:6,ci:true,title:'Relative protein levels',titleX:302,titleY:1390,titleS:22});
 const lab=[['***','**'],['**','***'],['**','**'],['***','***'],['**','**']];
 mCats.forEach((s,i)=>{const top=r.ys(Math.max(m9810[i],mNC[i],mKD[i])+mErr[i]);
  bracket(r.bx(i,0),r.bx(i,2),top-18,lab[i][0],10,1);
  bracket(r.bx(i,1),r.bx(i,2),top-8,lab[i][1],10,1);});
 legend(350,1261,15.6,10,12.5,mSeries,[RED,GRN,BLU]);
})();

/* ---------------- N ---------------- */
panel(612,1232,'N');
(function(){
 const rows=[['E-cadherin','135KD',1305,40,[0.8,0.8,0.5]],['Vimentin','57KD',1346,38,[0.9,0.9,0.95]],['N-cadherin','140KD',1386,38,[0.6,0.6,0.8]],['MMP2','74KD',1426,36,[0.75,0.75,0.85]],['COL1A1','130KD',1463,36,[0.75,0.75,0.75]],['β-actin','42KD',1501,37,[0.95,0.95,0.95]]];
 rows.forEach(r=>{blot('blot-n-'+r[0],697,r[2],168,r[3],r[4],'#e8e8e8',r[3]*0.15);
  txt(690,r[2]+r[3]/2+4,r[0],11.5,{'text-anchor':'end','font-weight':r[0]==='β-actin'?'bold':'normal'},'row-label');
  txt(868,r[2]+r[3]/2+4,r[1],11.5,{},'kd-label');});
 ['RBE','RBE-NC','RBE(OE-MMP2)'].forEach((s,i)=>{const x=[735,782,822][i],y=1303;txt(x,y,s,12,{transform:'rotate(-65 '+x+' '+y+')'},'lane-label');});
 const r=barChart({name:'chart-n',cats:nCats,series:[nRBE,nNC,nOE],errs:nErr,colors:[RED,GRN,BLU],x0:958,x1:1216,y0:1472,yTop:1323,max:0.8,b:[958,1224.5],bw:12,step:14,aw:1.1,
  ticks:nTicks,tickLabels:nTickLabels,tl:4,ts:11,rot:-55,cs:17,clDy:12,clDx:6,ci:true,title:'Relative protein levels',titleX:923,titleY:1385,titleS:22});
 const lab=[['**','***'],['***','***'],['**','**'],['***','***'],['**','**']];
 nCats.forEach((s,i)=>{const top=r.ys(Math.max(nRBE[i],nNC[i],nOE[i])+nErr[i]);
  bracket(r.bx(i,0),r.bx(i,2),top-18,lab[i][0],10,1);
  bracket(r.bx(i,1),r.bx(i,2),top-8,lab[i][1],10,1);});
 legend(976,1271,11.5,7,9,nSeries,[RED,GRN,BLU]);
})();
</script>
</body></html>
